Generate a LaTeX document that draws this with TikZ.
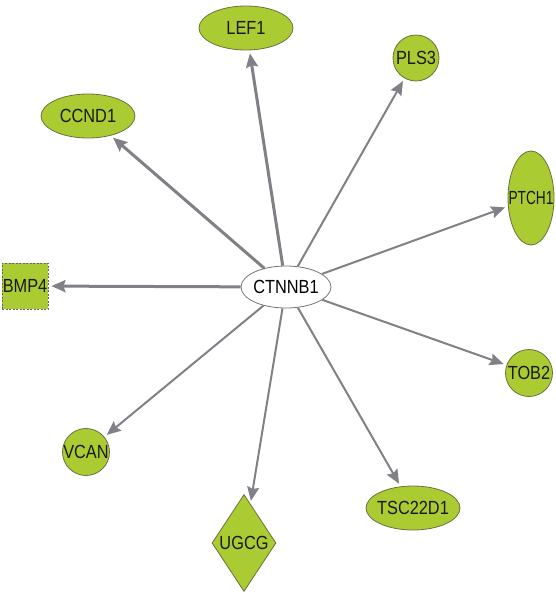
\documentclass[tikz,border=0pt]{standalone}
\usepackage{fontspec}
\usepackage{graphicx}
\setmainfont{Liberation Sans}[FakeStretch=0.86]
\usetikzlibrary{arrows.meta,shapes.geometric}

\definecolor{genegreen}{RGB}{170,204,50}
\definecolor{geneedge}{RGB}{105,112,62}
\definecolor{linkgray}{RGB}{128,128,134}

% zero width label, so the shape keeps its own size
\newcommand{\zw}[1]{\makebox[0pt][c]{#1}}

\begin{document}
\begin{tikzpicture}[
    x=1pt, y=-1pt,
    gene/.style={draw=geneedge, fill=genegreen, line width=0.8pt, inner sep=0pt, text=black!90},
    oval/.style={gene, ellipse},
    ball/.style={gene, circle, minimum size=#1},
    hub/.style={ellipse, draw=black!55, fill=white, line width=0.8pt, inner sep=0pt,
        minimum width=90pt, minimum height=42pt},
    link/.style={linkgray, line width=2pt, shorten >=3pt,
        -{Stealth[length=14pt, width=12pt, inset=2pt]}},
    bold_link/.style={link, line width=3pt},
    font=\fontsize{19}{21}\selectfont
]
\useasboundingbox (0,0) rectangle (555,595);

% Nodes
\node[hub] (ctnnb1) at (286,287) {\zw{CTNNB1}};

\node[oval, minimum width=94pt, minimum height=44pt] (lef1) at (246,28) {\zw{LEF1}};
\node[ball=46pt] (pls3) at (416,58) {\zw{PLS3}};
\node[oval, minimum width=94pt, minimum height=44pt] (ccnd1) at (88,116) {\zw{CCND1}};
\node[oval, minimum width=46pt, minimum height=94pt] (ptch1) at (531,198) {\zw{\scalebox{0.84}[1]{PTCH1}}};
\node[gene, rectangle, dash pattern=on 2pt off 1.5pt, draw=black!60,
    minimum size=46pt] (bmp4) at (25,286) {\zw{BMP4}};
\node[ball=47pt] (tob2) at (529,373) {\zw{TOB2}};
\node[ball=47pt] (vcan) at (86,452) {\zw{VCAN}};
\node[oval, minimum width=94pt, minimum height=44pt] (tsc22d1) at (413,508) {\zw{TSC22D1}};
\node[gene, diamond, minimum width=64pt, minimum height=97pt] (ugcg) at (244,543) {\zw{UGCG}};

% Edges
\draw[bold_link] (ctnnb1) -- (lef1);
\draw[bold_link] (ctnnb1) -- (ccnd1);
\draw[bold_link] (ctnnb1) -- (bmp4);
\draw[link] (ctnnb1) -- (pls3);
\draw[link] (ctnnb1) -- (ptch1);
\draw[link] (ctnnb1) -- (tob2);
\draw[link] (ctnnb1) -- (tsc22d1);
\draw[link] (ctnnb1) -- (ugcg);
\draw[link] (ctnnb1) -- (vcan);

\end{tikzpicture}
\end{document}
